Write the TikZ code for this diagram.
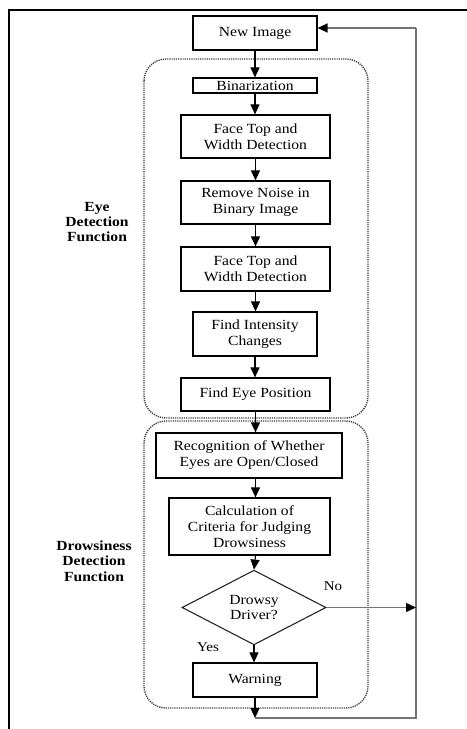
\documentclass[tikz,border=0pt]{standalone}
\usepackage{fontspec}
\setmainfont{Liberation Serif}[FakeStretch=1.12]
\usetikzlibrary{shapes.geometric,arrows.meta}
\tikzset{
  box/.style={draw=black, line width=1.2bp, inner sep=0pt, align=center, font=\fontsize{14}{16}\selectfont},
  decision/.style={draw=black!85, line width=1.1bp, diamond, inner sep=0pt, align=center, font=\fontsize{14}{16}\selectfont},
  flow/.style={draw=black, line width=1.1bp, -{Triangle[length=10bp,width=9bp]}},
  loop/.style={draw=black!55, line width=1.4bp},
  looparrow/.style={loop, -{Triangle[length=10bp,width=9bp,color=black]}},
  group/.style={draw=black!75, line width=1.4bp, dash pattern=on 1.2bp off 1bp, rounded corners=22bp},
  grouplabel/.style={align=center, font=\bfseries\fontsize{14}{15.5}\selectfont},
  answer/.style={font=\fontsize{13.5}{15}\selectfont, inner sep=0pt},
}
\begin{document}
\begin{tikzpicture}[x=1bp,y=-1bp]
\useasboundingbox (0,0) rectangle (467,729);
% frame
\draw[line width=2.4bp] (9,729) -- (9,10) -- (467,10);
% groups
\draw[group] (144,59) rectangle (368,418);
\draw[group] (144,421) rectangle (368,708);
% nodes
\node[box, minimum width=124bp, minimum height=34bp] (new) at (255,33) {New Image};
\node[box, minimum width=124bp, minimum height=15bp] (bin) at (255,85.5) {Binarization};
\node[box, minimum width=149bp, minimum height=43bp] (ft1) at (255.5,136.5) {Face Top and\\Width Detection};
\node[box, minimum width=149bp, minimum height=43bp] (rn) at (255.5,202.5) {Remove Noise in\\Binary Image};
\node[box, minimum width=149bp, minimum height=44bp] (ft2) at (255.5,269) {Face Top and\\Width Detection};
\node[box, minimum width=124bp, minimum height=44bp] (fi) at (255,334) {Find Intensity\\Changes};
\node[box, minimum width=149bp, minimum height=33bp] (fe) at (255.5,394.5) {Find Eye Position};
\node[box, minimum width=186bp, minimum height=45bp] (rec) at (249,455.5) {Recognition of Whether\\Eyes are Open/Closed};
\node[box, minimum width=161bp, minimum height=57bp] (calc) at (249.5,526.5) {Calculation of\\Criteria for Judging\\Drowsiness};
\node[decision, minimum width=144bp, minimum height=69bp] (dia) at (254,607.5) {Drowsy\\Driver?};
\node[box, minimum width=124bp, minimum height=34bp] (warn) at (255,680) {Warning};
% labels
\node[grouplabel] (eyelab) at (97,222) {Eye\\Detection\\Function};
\node[grouplabel] (drowlab) at (94,561) {Drowsiness\\Detection\\Function};
\node[answer] (no) at (333,586) {No};
\node[answer] (yes) at (208,647) {Yes};
% loop coordinates
\coordinate (bot) at (255,718);
\coordinate (br) at (416,718);
\coordinate (tr) at (416,28);
% connectors
\draw[flow] (new.south) -- (new.south |- bin.north);
\draw[flow] (bin.south) -- (bin.south |- ft1.north);
\draw[flow] (ft1.south) -- (ft1.south |- rn.north);
\draw[flow] (rn.south) -- (rn.south |- ft2.north);
\draw[flow] (ft2.south) -- (ft2.south |- fi.north);
\draw[flow] (fi.south) -- (fi.south |- fe.north);
\draw[flow] (fe.south) -- (fe.south |- rec.north);
\draw[flow] (fe.south |- rec.south) -- (fe.south |- calc.north);
\draw[flow] (fe.south |- calc.south) -- (dia.north);
\draw[flow] (dia.south) -- (dia.south |- warn.north);
\draw[flow] (warn.south) -- (bot);
\draw[loop] (bot) -- (br) -- (tr);
\draw[looparrow] (tr) -- (tr -| new.east);
\draw[looparrow] (dia.east) -- (dia.east -| tr);
\end{tikzpicture}
\end{document}
